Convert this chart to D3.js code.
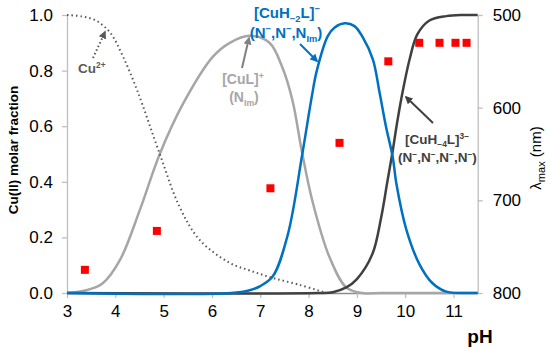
<!DOCTYPE html>
<html>
<head>
<meta charset="utf-8">
<script src="https://cdn.jsdelivr.net/npm/d3@7"></script>
<style>
  body { margin: 0; background: #fff; }
  svg { font-family: "Liberation Sans", Arial, sans-serif; }
</style>
</head>
<body>
<svg class="chart" width="550" height="355"></svg>
<script>
// species distribution: [pH, fraction]
const cuFree = [[3,1.0],[3.3,0.995],[3.6,0.98],[3.9,0.935],[4.16,0.85],[4.45,0.73],[4.92,0.50],[5.33,0.31],[5.75,0.19],[6.37,0.108],[6.8,0.08],[7.26,0.054],[7.8,0.03],[8.37,0.0]]
const cuL = [[3,0],[3.4,0.01],[3.74,0.035],[4.1,0.12],[4.51,0.30],[4.92,0.50],[5.4,0.68],[6.02,0.85],[6.37,0.90],[6.78,0.925],[7.19,0.90],[7.46,0.81],[7.67,0.69],[7.86,0.51],[8.08,0.33],[8.43,0.13],[8.78,0.02],[9.1,0],[9.5,0],[11.5,0]]
const cuH2L = [[3,0],[6.4,0],[6.78,0.01],[7.0,0.025],[7.26,0.06],[7.57,0.21],[7.87,0.50],[8.06,0.70],[8.17,0.80],[8.4,0.925],[8.54,0.955],[8.75,0.97],[8.95,0.96],[9.12,0.92],[9.33,0.84],[9.47,0.72],[9.6,0.60],[9.74,0.49],[9.82,0.39],[10.02,0.23],[10.29,0.105],[10.56,0.036],[10.85,0.005],[11.2,0],[11.5,0]]
const cuH4L = [[3,0],[8.2,0],[8.5,0.003],[8.78,0.02],[9.0,0.05],[9.32,0.14],[9.5,0.27],[9.63,0.40],[9.74,0.51],[9.82,0.60],[9.92,0.70],[10.09,0.84],[10.25,0.93],[10.5,0.98],[10.85,0.996],[11.2,1.0],[11.5,1.0]]

// lambda max points
const lamPH = [3.37, 4.86, 7.21, 8.64, 9.65, 10.29, 10.71, 11.04, 11.27]
const lamNm = [775, 733, 687, 638, 550, 530, 530, 530, 530]

const xTicks = [3, 4, 5, 6, 7, 8, 9, 10, 11]
const yTicks = [0, 0.2, 0.4, 0.6, 0.8, 1.0]
const y2Ticks = [500, 600, 700, 800]

const svg = d3.select("svg.chart")

const scaleX = d3.scaleLinear().domain([3, 11.5]).range([67, 477.7])
const scaleY = d3.scaleLinear().domain([0, 1]).range([293, 15])
const scaleY2 = d3.scaleLinear().domain([800, 500]).range([293, 15])

// axes
const axisX = d3.axisBottom(scaleX).tickValues(xTicks).tickSizeInner(5).tickSizeOuter(0).tickPadding(7)
const axisY = d3.axisLeft(scaleY).tickValues(yTicks).tickFormat(d3.format(".1f")).tickSizeInner(5).tickSizeOuter(0).tickPadding(9)
const axisY2 = d3.axisRight(scaleY2).tickValues(y2Ticks).tickSizeInner(5).tickSizeOuter(0).tickPadding(10)

const gy = svg.append("g").attr("transform", "translate(67,0)").call(axisY)
const gy2 = svg.append("g").attr("transform", "translate(477.7,0)").call(axisY2)
const gx = svg.append("g").attr("transform", "translate(0,293)").call(axisX)

;[gx, gy, gy2].forEach(g => {
    g.selectAll("path, line").attr("stroke", "#bfbfbf").attr("stroke-width", 1.3)
    g.selectAll(".tick text").attr("font-size", "17px").attr("fill", "#000")
        .attr("font-family", "'Liberation Sans', Arial, sans-serif")
})
gx.select("path").attr("stroke", "#8c8c8c")

// curves
const line = d3.line()
    .x(d => scaleX(d[0]))
    .y(d => scaleY(d[1]))
    .curve(d3.curveCatmullRom.alpha(0.5))

svg.append("path").datum(cuL).attr("d", line)
    .attr("fill", "none").attr("stroke", "#a6a6a6").attr("stroke-width", 2.5)
svg.append("path").datum(cuH4L).attr("d", line)
    .attr("fill", "none").attr("stroke", "#404040").attr("stroke-width", 2.5)
svg.append("path").datum(cuH2L).attr("d", line)
    .attr("fill", "none").attr("stroke", "#0070c0").attr("stroke-width", 2.5)
svg.append("path").datum(cuFree).attr("d", line)
    .attr("fill", "none").attr("stroke", "#595959").attr("stroke-width", 2)
    .attr("stroke-dasharray", "1.5,3")

// lambda max squares
svg.selectAll("rect.lam")
    .data(lamPH)
    .enter().append("rect")
    .attr("class", "lam")
    .attr("x", (d, i) => scaleX(d) - 4)
    .attr("y", (d, i) => scaleY2(lamNm[i]) - 4)
    .attr("width", 8)
    .attr("height", 8)
    .attr("fill", "#ff0000")

// axis titles
svg.append("text")
    .attr("transform", "translate(18,150) rotate(-90)")
    .attr("text-anchor", "middle")
    .attr("font-size", "13.5px").attr("font-weight", "bold")
    .text("Cu(II) molar fraction")

const lam = svg.append("text")
    .attr("transform", "translate(541,158) rotate(-90)")
    .attr("text-anchor", "middle")
    .attr("font-size", "15px")
lam.append("tspan").text("λ")
lam.append("tspan").attr("font-size", "11px").attr("dy", 4).text("max")
lam.append("tspan").attr("dy", -4).text(" (nm)")

svg.append("text")
    .attr("x", 480).attr("y", 343)
    .attr("text-anchor", "middle")
    .attr("font-size", "19px").attr("font-weight", "bold")
    .text("pH")

// labels with sub/superscripts
function label(x, y, parts, opts) {
    const t = svg.append("text")
        .attr("x", x).attr("y", y)
        .attr("text-anchor", opts.anchor || "start")
        .attr("font-size", opts.size + "px")
        .attr("font-weight", opts.weight || "normal")
        .attr("fill", opts.color)
    let shift = 0
    parts.forEach(p => {
        const s = typeof p === "string" ? { t: p } : p
        let target = 0
        if (s.sub) target = opts.size * 0.25
        if (s.sup) target = -opts.size * 0.38
        t.append("tspan")
            .attr("dy", target - shift)
            .attr("font-size", (s.sub || s.sup) ? opts.size * 0.62 + "px" : null)
            .text(s.t)
        shift = target
    })
}

const m = "\u2212"
label(78, 73, ["Cu", { t: "2+", sup: 1 }], { size: 13.5, weight: "bold", color: "#595959" })
label(243, 84, ["[CuL]", { t: "+", sup: 1 }], { size: 14, weight: "bold", color: "#a6a6a6", anchor: "middle" })
label(244, 102, ["(N", { t: "Im", sub: 1 }, ")"], { size: 14, weight: "bold", color: "#a6a6a6", anchor: "middle" })
label(287, 18, ["[CuH", { t: m + "2", sub: 1 }, "L]", { t: m, sup: 1 }], { size: 15, weight: "bold", color: "#0070c0", anchor: "middle" })
label(286, 38, ["(N", { t: m, sup: 1 }, ",N", { t: m, sup: 1 }, ",N", { t: "Im", sub: 1 }, ")"], { size: 15, weight: "bold", color: "#0070c0", anchor: "middle" })
label(405, 144, ["[CuH", { t: m + "4", sub: 1 }, "L]", { t: "3" + m, sup: 1 }], { size: 13.5, weight: "bold", color: "#404040" })
label(398, 162, ["(N", { t: m, sup: 1 }, ",N", { t: m, sup: 1 }, ",N", { t: m, sup: 1 }, ",N", { t: m, sup: 1 }, ")"], { size: 13.5, weight: "bold", color: "#404040" })

// arrows
const defs = svg.append("defs")
function marker(id, color) {
    defs.append("marker")
        .attr("id", id)
        .attr("viewBox", "0 0 10 10")
        .attr("refX", 8).attr("refY", 5)
        .attr("markerWidth", 4).attr("markerHeight", 4)
        .attr("orient", "auto")
        .append("path").attr("d", "M0,0L10,5L0,10Z").attr("fill", color)
}
marker("a-dot", "#595959")
marker("a-grey", "#808080")
marker("a-blue", "#0070c0")
marker("a-dark", "#404040")

function arrow(x1, y1, x2, y2, color, id, dash) {
    svg.append("line")
        .attr("x1", x1).attr("y1", y1).attr("x2", x2).attr("y2", y2)
        .attr("stroke", color).attr("stroke-width", 2)
        .attr("stroke-dasharray", dash || null)
        .attr("marker-end", `url(#${id})`)
}
arrow(93, 58, 105, 32, "#595959", "a-dot", "1.5,2.5")
arrow(242, 68, 249, 38, "#808080", "a-grey")
arrow(300, 44, 317, 61, "#0070c0", "a-blue")
arrow(433, 123, 406, 97, "#404040", "a-dark")
</script>
</body>
</html>
